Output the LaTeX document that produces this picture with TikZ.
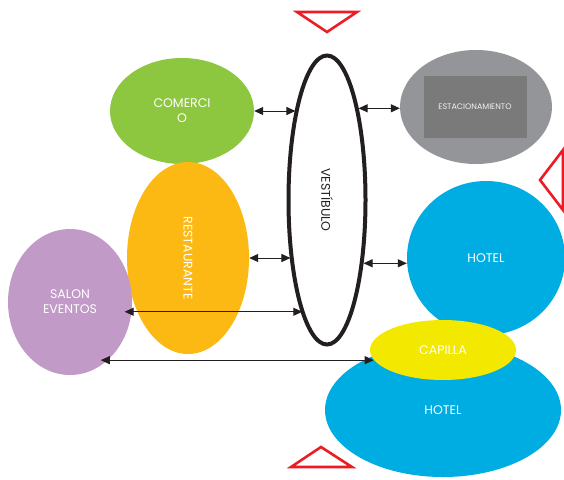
\documentclass[tikz,border=0pt]{standalone}
\usepackage{fontspec}
\setmainfont{Poppins}
\usepackage{xcolor}
\usepackage{graphicx}
\usepackage{tikz}
\usetikzlibrary{shapes.geometric,arrows.meta}
\definecolor{verde}{RGB}{141,198,63}
\definecolor{naranja}{RGB}{253,185,19}
\definecolor{lila}{RGB}{194,154,200}
\definecolor{azul}{RGB}{0,173,226}
\definecolor{amarillo}{RGB}{243,232,0}
\definecolor{gris}{RGB}{147,149,152}
\definecolor{grisosc}{RGB}{122,122,122}
\definecolor{rojo}{RGB}{237,28,36}
\definecolor{negro}{RGB}{35,31,32}

\begin{document}
\begin{tikzpicture}[x=1pt,y=-1pt,
    zona/.style={ellipse,inner sep=0pt,text=white,align=center,font=\fontsize{12.5}{15}\selectfont},
    flecha/.style={{Triangle[length=9pt,width=8pt]}-{Triangle[length=9pt,width=8pt]},line width=1pt,draw=negro},
    senal/.style={draw=rojo,line width=2.6pt}]
    \useasboundingbox (0,0) rectangle (564,479);
    \fill[white] (0,0) rectangle (564,479);

    \draw[senal] (297,12) -- (357,12) -- (327,32) -- cycle;
    \draw[senal] (563,150) -- (540,180) -- (563,210) -- cycle;
    \draw[senal] (291,467) -- (352,467) -- (321,447) -- cycle;

    \node[zona,fill=verde,minimum width=144pt,minimum height=106pt] (comercio) at (182,111) {COMERCI\\O};
    \node[zona,fill=gris,minimum width=152pt,minimum height=114pt] (estac) at (476,107) {};
    \node[fill=grisosc,minimum width=103pt,minimum height=62pt,inner sep=0pt,text=white!88!gris,font=\fontsize{8}{9}\selectfont] (estacrect) at (475,107) {ESTACIONAMIENTO};
    \node[zona,fill=naranja,minimum width=122pt,minimum height=192pt] (restaurante) at (188,258) {\rotatebox{-90}{RESTAURANTE}};
    \node[zona,fill=lila,minimum width=124pt,minimum height=146pt] (salon) at (70,302) {SALON\\EVENTOS};
    \node[zona,fill=azul,minimum width=158pt,minimum height=154pt] (hotel) at (486,258) {HOTEL};
    \node[zona,fill=azul,minimum width=236pt,minimum height=134pt] (hotelb) at (443,410) {HOTEL};
    \node[zona,fill=amarillo,minimum width=146pt,minimum height=60pt] (capilla) at (443,350) {CAPILLA};
    \node[zona,draw=negro,line width=4pt,text=negro,minimum width=77pt,minimum height=289pt] (vestibulo) at (327,200) {\rotatebox{-90}{VESTÍBULO}};

    \draw[flecha] (comercio.east) -- (comercio.east -| vestibulo.109);
    \draw[flecha] (vestibulo.71) -- (vestibulo.71 -| estac.west);
    \draw[flecha] (restaurante.east) -- (restaurante.east -| vestibulo.240);
    \draw[flecha] (vestibulo.-60) -- (vestibulo.-60 -| hotel.west);
    \draw[flecha] ([xshift=-7pt]salon.-9) -- (salon.-9 -| vestibulo.258);
    \draw[flecha] ([xshift=-7pt]salon.-57) -- (salon.-57 -| capilla.188);
\end{tikzpicture}
\end{document}
